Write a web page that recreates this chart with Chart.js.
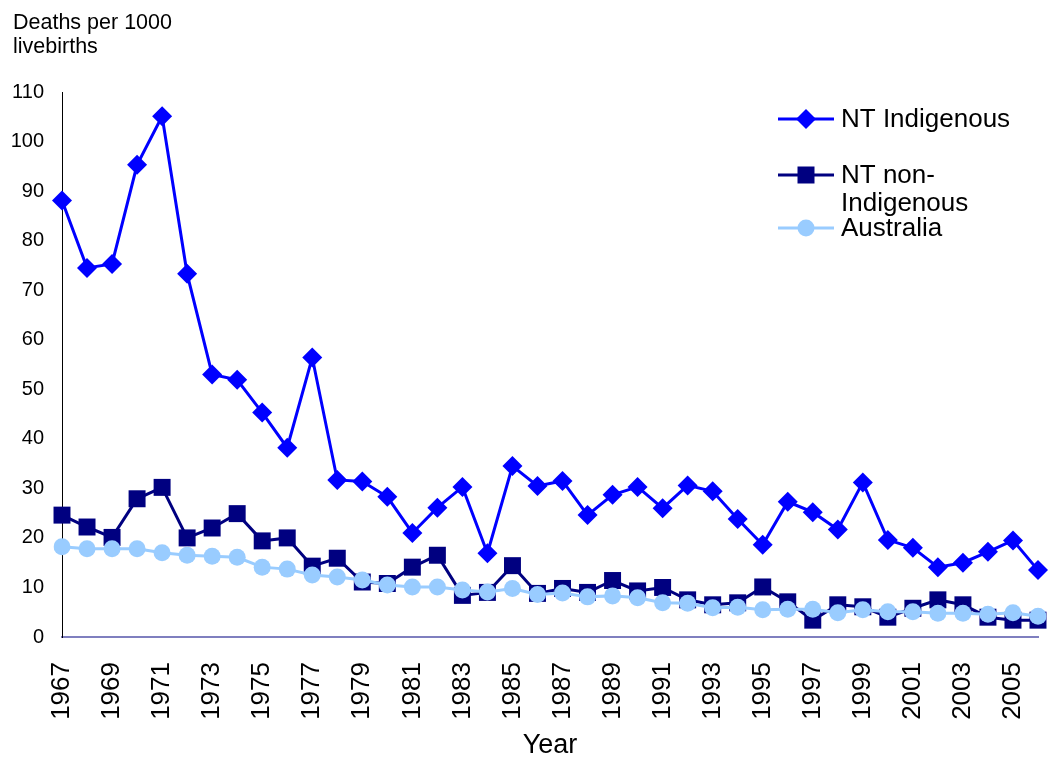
<!DOCTYPE html>
<html lang="en">
<head>
    <meta charset="UTF-8">
    <title>Infant mortality, NT</title>
    <script src="https://cdn.jsdelivr.net/npm/chart.js"></script>
    <style>
        body { margin: 0; background: #fff; }
        #wrap { width: 1050px; height: 762px; }
    </style>
</head>
<body>
    <div id="wrap">
        <canvas id="mortChart" width="1050" height="762"></canvas>
    </div>
<script>
    // Années
    const years = ['1967','1968','1969','1970','1971','1972','1973','1974','1975','1976',
        '1977','1978','1979','1980','1981','1982','1983','1984','1985','1986',
        '1987','1988','1989','1990','1991','1992','1993','1994','1995','1996',
        '1997','1998','1999','2000','2001','2002','2003','2004','2005','2006'];

    // Décès pour 1000 naissances vivantes
    const ntIndigenous = [88.1, 74.5, 75.3, 95.3, 105.1, 73.3, 53.0, 51.9, 45.3, 38.2,
        56.4, 31.7, 31.4, 28.3, 21.0, 26.1, 30.3, 16.9, 34.5, 30.5,
        31.5, 24.6, 28.7, 30.3, 26.0, 30.6, 29.4, 23.8, 18.6, 27.3,
        25.2, 21.7, 31.2, 19.6, 18.0, 14.1, 15.0, 17.2, 19.5, 13.5];

    const ntNonIndigenous = [24.6, 22.2, 20.1, 27.9, 30.2, 20.0, 22.0, 24.9, 19.4, 20.0,
        14.3, 15.9, 11.1, 10.8, 14.1, 16.5, 8.4, 9.0, 14.4, 8.8,
        9.8, 9.0, 11.4, 9.3, 10.0, 7.5, 6.5, 6.9, 10.1, 7.1,
        3.4, 6.5, 6.1, 4.0, 5.8, 7.5, 6.5, 4.0, 3.4, 3.4];

    const australia = [18.2, 17.8, 17.8, 17.8, 17.0, 16.5, 16.3, 16.1, 14.1, 13.7,
        12.5, 12.1, 11.5, 10.5, 10.1, 10.1, 9.5, 9.1, 9.8, 8.6,
        8.9, 8.1, 8.3, 7.9, 6.9, 6.8, 5.9, 6.0, 5.5, 5.6,
        5.6, 4.9, 5.5, 5.1, 5.1, 4.8, 4.8, 4.6, 4.9, 4.2];

    const yTicks = [0, 10, 20, 30, 40, 50, 60, 70, 80, 90, 100, 110];

    const seriesNames = ['NT Indigenous', 'NT non-Indigenous', 'Australia'];
    const seriesColors = ['#0000FF', '#000080', '#99CCFF'];

    const FONT = 'Arial, "Liberation Sans", sans-serif';

    // petit dessin de marqueur pour la légende
    function drawMarker(ctx, style, x, y, color) {
        ctx.fillStyle = color;
        ctx.beginPath();
        if (style === 'rectRot') {
            ctx.moveTo(x - 10, y);
            ctx.lineTo(x, y - 10);
            ctx.lineTo(x + 10, y);
            ctx.lineTo(x, y + 10);
            ctx.closePath();
        } else if (style === 'rect') {
            ctx.rect(x - 8.5, y - 8.5, 17, 17);
        } else {
            ctx.arc(x, y, 8.5, 0, Math.PI * 2);
        }
        ctx.fill();
    }

    // Légende + titre de l'axe Y
    const extrasPlugin = {
        id: 'extras',
        afterDraw(chart) {
            const ctx = chart.ctx;
            const area = chart.chartArea;
            ctx.save();

            ctx.fillStyle = '#000';
            ctx.font = '21.5px ' + FONT;
            ctx.textAlign = 'left';
            ctx.textBaseline = 'alphabetic';
            ctx.fillText('Deaths per 1000', 13, 29);
            ctx.fillText('livebirths', 13, 53);

            const lx = area.right - 260;
            const rows = [
                { y: area.top + 27, style: 'rectRot', lines: ['NT Indigenous'] },
                { y: area.top + 83, style: 'rect', lines: ['NT non-', 'Indigenous'] },
                { y: area.top + 136, style: 'circle', lines: ['Australia'] }
            ];
            rows.forEach((r, i) => {
                ctx.strokeStyle = seriesColors[i];
                ctx.lineWidth = 3;
                ctx.beginPath();
                ctx.moveTo(lx, r.y);
                ctx.lineTo(lx + 56, r.y);
                ctx.stroke();
                drawMarker(ctx, r.style, lx + 28, r.y, seriesColors[i]);
                ctx.fillStyle = '#000';
                ctx.font = '26px ' + FONT;
                ctx.textBaseline = 'middle';
                r.lines.forEach((t, k) => ctx.fillText(t, lx + 63, r.y + 1 + k * 28));
            });
            ctx.restore();
        }
    };

    new Chart(document.getElementById('mortChart'), {
        type: 'line',
        data: {
            labels: years,
            datasets: [
                {
                    label: seriesNames[0],
                    data: ntIndigenous,
                    borderColor: seriesColors[0],
                    backgroundColor: seriesColors[0],
                    borderWidth: 3,
                    pointStyle: 'rectRot',
                    pointRadius: 10,
                    pointBorderWidth: 0,
                    order: 2
                },
                {
                    label: seriesNames[1],
                    data: ntNonIndigenous,
                    borderColor: seriesColors[1],
                    backgroundColor: seriesColors[1],
                    borderWidth: 3,
                    pointStyle: 'rect',
                    pointRadius: 12,
                    pointBorderWidth: 0,
                    order: 1
                },
                {
                    label: seriesNames[2],
                    data: australia,
                    borderColor: seriesColors[2],
                    backgroundColor: seriesColors[2],
                    borderWidth: 3,
                    pointStyle: 'circle',
                    pointRadius: 8.5,
                    pointBorderWidth: 0,
                    order: 0
                }
            ]
        },
        options: {
            responsive: false,
            animation: false,
            events: [],
            layout: { padding: { top: 92, left: 2, right: 11, bottom: 0 } },
            plugins: {
                legend: { display: false },
                tooltip: { enabled: false }
            },
            scales: {
                x: {
                    offset: false,
                    grid: { display: false },
                    border: { display: true, color: '#7F7FBF', width: 2 },
                    afterFit: (scale) => {
                        scale.paddingLeft = 0;
                        scale.paddingRight = 0;
                        scale.height = 125;
                    },
                    ticks: {
                        autoSkip: false,
                        maxRotation: 90,
                        minRotation: 90,
                        padding: 17,
                        color: '#000',
                        font: { family: FONT, size: 26 },
                        callback: (v, i) => (i % 2 === 0 ? years[i] : '')
                    },
                    title: {
                        display: true,
                        text: 'Year',
                        color: '#000',
                        font: { family: FONT, size: 27 },
                        padding: { top: 4, bottom: 0 }
                    }
                },
                y: {
                    min: yTicks[0],
                    max: yTicks[yTicks.length - 1],
                    grid: { display: false },
                    border: { display: true, color: '#000', width: 1 },
                    afterBuildTicks: (axis) => { axis.ticks = yTicks.map(v => ({ value: v })); },
                    afterFit: (scale) => {
                        scale.paddingTop = 0;
                        scale.paddingBottom = 0;
                        scale.width = 60;
                    },
                    ticks: {
                        padding: 10,
                        color: '#000',
                        font: { family: FONT, size: 20 }
                    }
                }
            }
        },
        plugins: [extrasPlugin]
    });
</script>
</body>
</html>
